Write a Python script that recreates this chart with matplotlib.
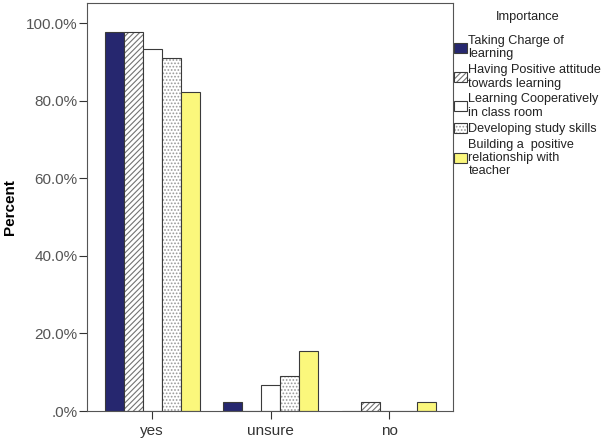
import numpy as np
import matplotlib
matplotlib.use('Agg')
import matplotlib.pyplot as plt

plt.rcParams['font.family'] = ['Liberation Sans', 'DejaVu Sans']
plt.rcParams['hatch.linewidth'] = 0.8

categories = ['yes', 'unsure', 'no']
series = ['Taking Charge of\nlearning',
          'Having Positive attitude\ntowards learning',
          'Learning Cooperatively\nin class room',
          'Developing study skills',
          'Building a  positive\nrelationship with\nteacher']
values = {
    'taking': [97.8, 2.2, 0.0],
    'having': [97.8, 0.0, 2.2],
    'learning': [93.3, 6.7, 0.0],
    'developing': [91.1, 8.9, 0.0],
    'building': [82.2, 15.6, 2.2],
}
yticks = [0, 20, 40, 60, 80, 100]
ytick_labels = ['.0%', '20.0%', '40.0%', '60.0%', '80.0%', '100.0%']

styles = [
    dict(color='#26276f', hatch=None),
    dict(color='white', hatch='//////'),
    dict(color='white', hatch=None),
    dict(color='white', hatch='.....'),
    dict(color='#fbf77c', hatch=None),
]

fig = plt.figure(figsize=(6.06, 4.42), dpi=100)
ax = fig.add_axes([0.1436, 0.0701, 0.6039, 0.9231])

x = np.arange(len(categories))
w = 0.16
for i, key in enumerate(values):
    st = styles[i]
    ax.bar(x + (i - 2) * w, values[key], width=w, color=st['color'],
           hatch=st['hatch'], edgecolor='#3a3a3a', linewidth=0.8,
           label=series[i])

# hatch colour lighter than the edge
for c in ax.containers[1]:
    c._hatch_color = (0.45, 0.45, 0.45, 1)
for c in ax.containers[3]:
    c._hatch_color = (0.6, 0.6, 0.6, 1)

ax.set_xlim(-0.55, 2.54)
ax.set_ylim(0, 105.2)
ax.set_xticks(x)
ax.set_xticklabels(categories, fontsize=11, color='#333333')
ax.set_yticks(yticks)
ax.set_yticklabels(ytick_labels, fontsize=11, color='#555555')
ax.tick_params(axis='both', direction='out', length=6, width=0.8,
               color='#333333', pad=1)
ax.tick_params(axis='x', pad=3)
ax.set_ylabel('Percent', fontsize=11, fontweight='bold', labelpad=6)
for s in ax.spines.values():
    s.set_color('#555555')
    s.set_linewidth(0.8)

leg = fig.legend(loc='upper left', bbox_to_anchor=(0.749, 0.976),
                 title='Importance', fontsize=9.1, title_fontsize=9.2,
                 frameon=False, handlelength=1.05, handleheight=0.85,
                 handletextpad=0.1, labelspacing=0.3, borderaxespad=0,
                 borderpad=0)
for t in leg.get_texts():
    t.set_linespacing(1.15)
    t.set_color('#222222')
leg.get_title().set_color('#222222')
leg._legend_box.sep = 9

fig.savefig('out.png', dpi=100)
